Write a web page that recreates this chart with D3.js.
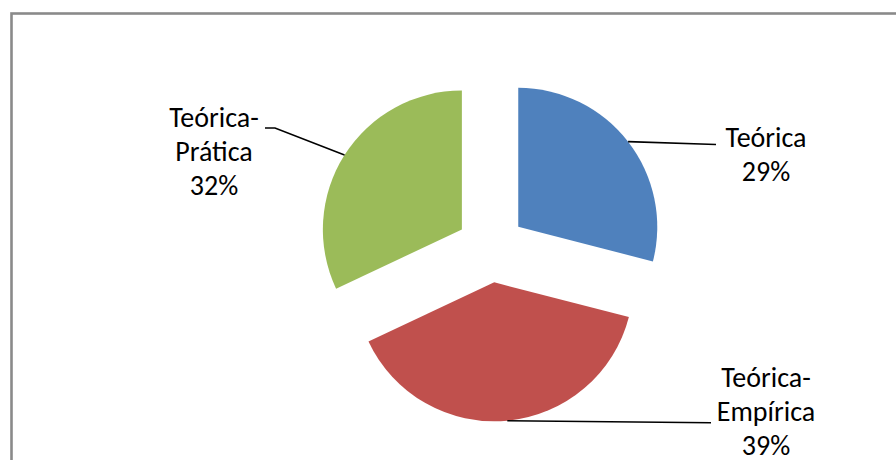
<!DOCTYPE html>
<html>
<head>
<meta charset="utf-8">
<script src="https://cdn.jsdelivr.net/npm/d3@7"></script>
<style>
  html, body { margin: 0; padding: 0; background: #fff; }
  svg { display: block; }
</style>
</head>
<body>
<svg id="chart" width="896" height="460"></svg>
<script>
const categories = ["Teórica", "Teórica-Empírica", "Teórica-Prática"];
const values = [29, 39, 32];
const percentLabels = ["29%", "39%", "32%"];
const labelLines = [["Teórica", "29%"], ["Teórica-", "Empírica", "39%"], ["Teórica-", "Prática", "32%"]];
const colors = ["#4F81BD", "#C0504D", "#9BBB59"];

const svg = d3.select("#chart");
const W = 896, H = 460;

// chart border (cropped at right and bottom)
svg.append("rect")
  .attr("x", 11.5).attr("y", 13.5)
  .attr("width", 1000).attr("height", 1000)
  .attr("fill", "#fff")
  .attr("stroke", "#8a8a8a")
  .attr("stroke-width", 2.6);

const cx = 491, cy = 248, R = 139, explode = 34.5;

const pie = d3.pie().sort(null).value(d => d).startAngle(0).endAngle(2 * Math.PI);
const arcs = pie(values);
const arc = d3.arc().innerRadius(0).outerRadius(R);

const g = svg.append("g").attr("transform", `translate(${cx},${cy})`);

function offset(a) {
  const mid = (a.startAngle + a.endAngle) / 2;
  return [Math.sin(mid) * explode, -Math.cos(mid) * explode];
}

g.selectAll("path.slice")
  .data(arcs)
  .join("path")
  .attr("class", "slice")
  .attr("d", arc)
  .attr("fill", (d, i) => colors[i])
  .attr("transform", d => { const o = offset(d); return `translate(${o[0]},${o[1]})`; });

// label layout: text center x, first baseline y, leader path end points
const labelLayout = [
  { x: 766, y: 147, pts: [[716, 144.5]] },
  { x: 766, y: 387, pts: [[711, 422.7]] },
  { x: 214, y: 127, pts: [[275, 128], [265, 128]] }
];
const lineH = 34;

arcs.forEach((a, i) => {
  const mid = (a.startAngle + a.endAngle) / 2;
  const o = offset(a);
  const ax = cx + o[0] + Math.sin(mid) * R;
  const ay = cy + o[1] - Math.cos(mid) * R;
  const L = labelLayout[i];
  const pts = [[ax, ay]].concat(L.pts);
  svg.append("path")
    .attr("d", d3.line()(pts))
    .attr("fill", "none")
    .attr("stroke", "#000")
    .attr("stroke-width", 1.6);

  const t = svg.append("text")
    .attr("text-anchor", "middle")
    .attr("font-family", "Carlito, Calibri, Lato, sans-serif")
    .attr("font-size", 28)
    .attr("fill", "#000");
  labelLines[i].forEach((s, k) => {
    t.append("tspan").attr("x", L.x).attr("y", L.y + k * lineH).text(s);
  });
});
</script>
</body>
</html>
